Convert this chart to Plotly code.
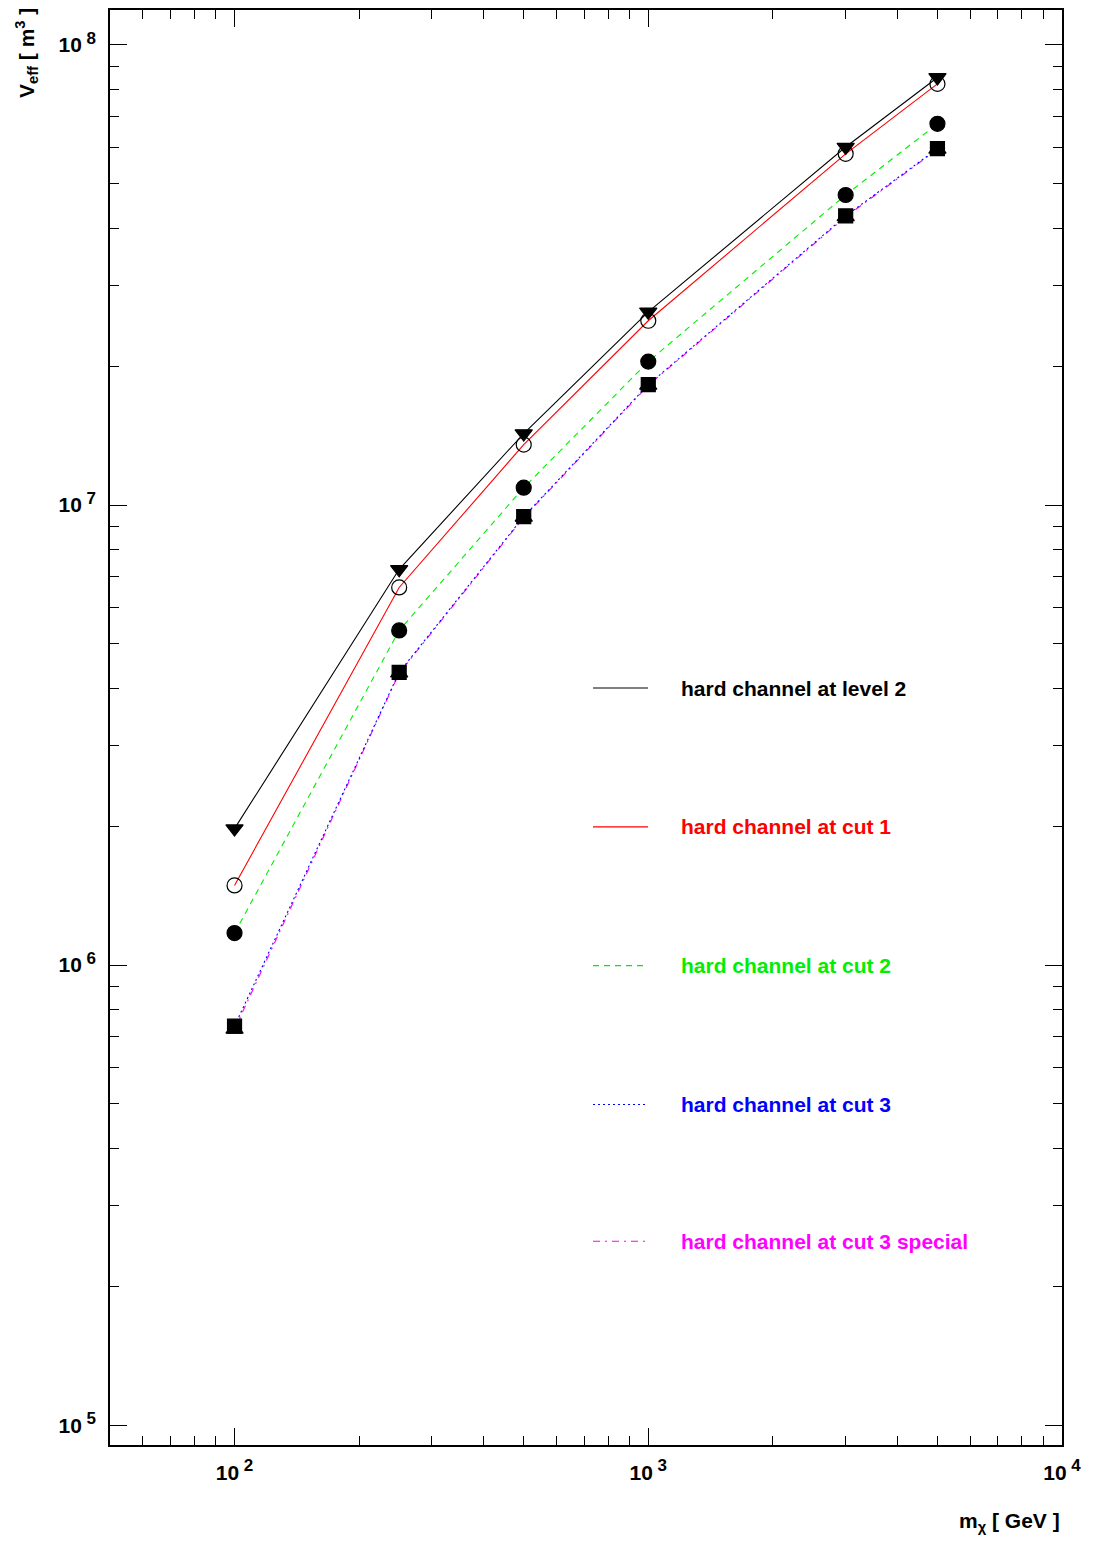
import plotly.graph_objects as go

# Neutralino mass points [GeV]
mass = [100, 250, 500, 1000, 3000, 5000]

# Effective volume [m^3] for the hard annihilation channel
veff_level2 = [1.98e6, 7.25e6, 1.43e7, 2.63e7, 6.0e7, 8.5e7]
veff_cut1 = [1.49e6, 6.62e6, 1.353e7, 2.515e7, 5.8e7, 8.23e7]
veff_cut2 = [1.174e6, 5.34e6, 1.091e7, 2.05e7, 4.72e7, 6.74e7]
veff_cut3 = [7.37e5, 4.33e6, 9.44e6, 1.827e7, 4.25e7, 5.95e7]
veff_cut3s = [7.25e5, 4.31e6, 9.40e6, 1.82e7, 4.23e7, 5.93e7]

series_names = [
    "hard channel at level 2",
    "hard channel at cut 1",
    "hard channel at cut 2",
    "hard channel at cut 3",
    "hard channel at cut 3 special",
]
series_values = [veff_level2, veff_cut1, veff_cut2, veff_cut3, veff_cut3s]
line_colors = ["#000000", "#ff0000", "#00ee00", "#0000ff", "#ff00ff"]
line_dashes = ["solid", "solid", "6px,5px", "2px,3px", "7px,5px,2px,5px"]
marker_symbols = ["triangle-down", "circle-open", "circle", "square", "triangle-up"]
marker_sizes = [15, 15, 15, 14, 15]

# Tick labels (decade exponents)
x_tickvals = [100, 1000, 10000]
x_exponents = ["2", "3", "4"]
y_tickvals = [1e5, 1e6, 1e7, 1e8]
y_exponents = ["5", "6", "7", "8"]


def power_label(exp):
    return ("<b>10</b><sup><b><span style='font-size:17px'> " + exp + "</span></b></sup>")


x_ticktext = [power_label(e) for e in x_exponents]
y_ticktext = [power_label(e) for e in y_exponents]

FONT = "Liberation Sans, Arial, sans-serif"

fig = go.Figure()

# draw lower series first so the upper curves stay on top
order = [4, 3, 2, 1, 0]
for i in order:
    fig.add_trace(go.Scatter(
        x=mass, y=series_values[i], mode="lines+markers",
        name=series_names[i], showlegend=False,
        line=dict(color=line_colors[i], width=1.1, dash=line_dashes[i]),
        marker=dict(symbol=marker_symbols[i], size=marker_sizes[i], color="black",
                    line=dict(color="black", width=1.2)),
    ))

W, H = 1093, 1545
ml, mr, mt, mb = 110, 31, 8, 100
pw, ph = W - ml - mr, H - mt - mb


def px_to_paper(xp, yp):
    return (xp - ml) / pw, (H - mb - yp) / ph


shapes = []
annotations = []
legend_y = [687, 826, 965, 1104, 1241]
for i in range(5):
    x0, y0 = px_to_paper(593, legend_y[i])
    x1, _ = px_to_paper(648, legend_y[i])
    shapes.append(dict(type="line", xref="paper", yref="paper", x0=x0, x1=x1, y0=y0, y1=y0,
                       line=dict(color=line_colors[i], width=1.1, dash=line_dashes[i])))
    tx, ty = px_to_paper(679, legend_y[i])
    annotations.append(dict(xref="paper", yref="paper", x=tx, y=ty, xanchor="left", yanchor="middle",
                            text="<b>" + series_names[i] + "</b>", showarrow=False,
                            font=dict(family=FONT, size=21, color=line_colors[i])))

# axis titles
annotations.append(dict(xref="paper", yref="paper", x=px_to_paper(1062, 0)[0], y=px_to_paper(0, 1522)[1],
                        xanchor="right", yanchor="middle", showarrow=False,
                        text="<b>m</b><sub><b>χ</b></sub><b> [ GeV ]</b>",
                        font=dict(family=FONT, size=21, color="black")))
annotations.append(dict(xref="paper", yref="paper", x=px_to_paper(26, 0)[0], y=px_to_paper(0, 4)[1],
                        xanchor="center", yanchor="top", showarrow=False, textangle=-90,
                        text="<b>V</b><sub><b>eff</b></sub><b> [ m</b><sup><b>3</b></sup><b> ]</b>",
                        font=dict(family=FONT, size=21, color="black")))

axis_common = dict(
    type="log", showgrid=False, zeroline=False,
    showline=True, linecolor="black", linewidth=1.5, mirror="allticks",
    ticks="inside", ticklen=17, tickwidth=1, tickcolor="black",
    tickfont=dict(family=FONT, size=21, color="black"),
    minor=dict(ticks="inside", ticklen=9, tickwidth=1, tickcolor="black", dtick="D1", showgrid=False),
)

fig.update_layout(
    width=W, height=H,
    margin=dict(l=ml, r=mr, t=mt, b=mb),
    paper_bgcolor="white", plot_bgcolor="white",
    xaxis=dict(range=[1.699, 4.0], tickvals=x_tickvals, ticktext=x_ticktext, ticklabelstandoff=8,
               **axis_common),
    yaxis=dict(range=[4.957, 8.076], tickvals=y_tickvals, ticktext=y_ticktext, ticklabelstandoff=8,
               **axis_common),
    shapes=shapes, annotations=annotations,
    showlegend=False,
)

fig.write_html("out.html")
